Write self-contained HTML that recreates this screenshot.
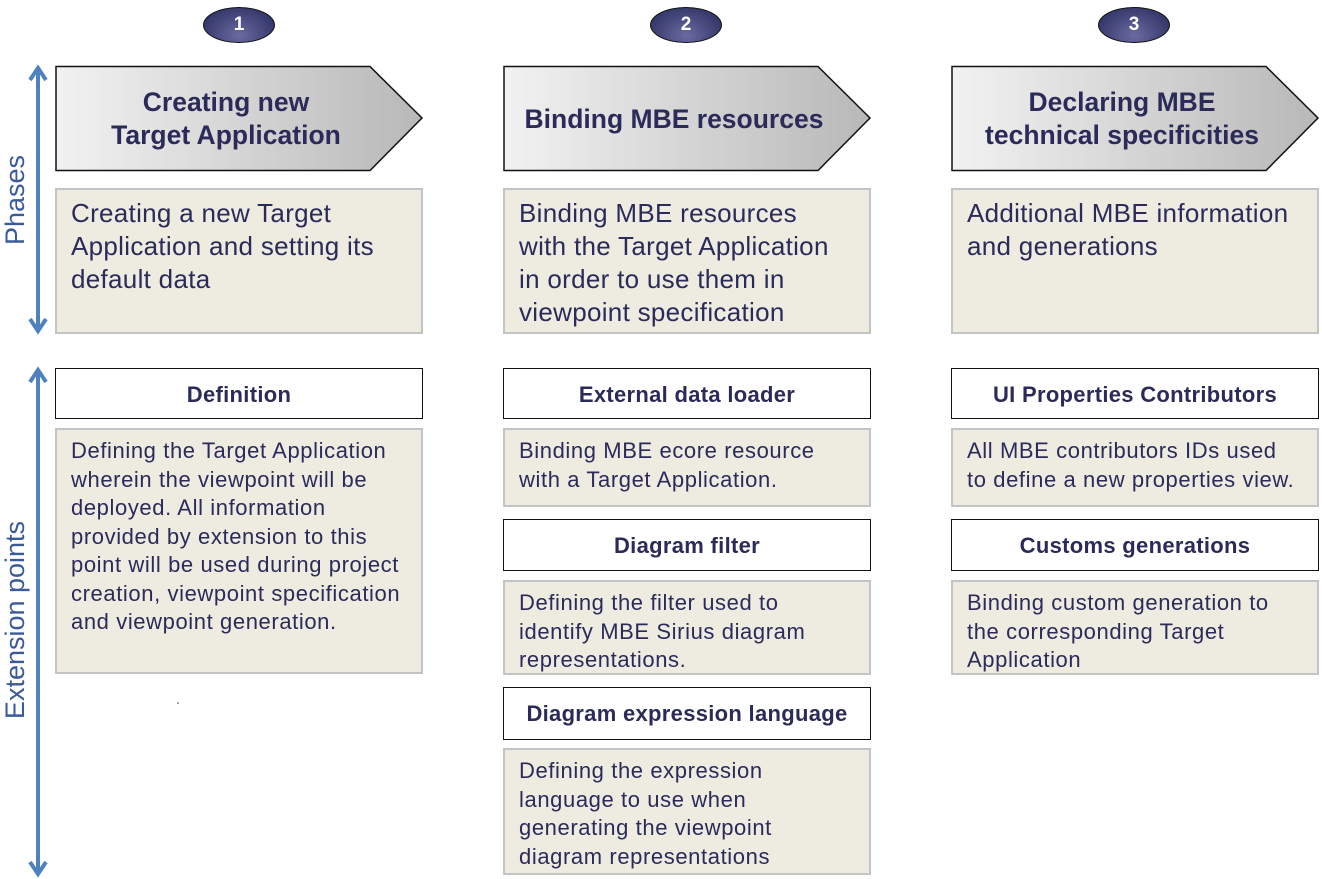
<!DOCTYPE html>
<html><head><meta charset="utf-8"><style>
body{margin:0;width:1322px;height:879px;background:#fff;position:relative;font-family:"Liberation Sans",Arial,sans-serif;color:#2b2b5a;overflow:hidden}
.a{position:absolute;box-sizing:border-box}
.oval{width:72px;height:36px;border-radius:50%;border:1.5px solid #111;background:radial-gradient(ellipse at 50% 80%,#6a6aa0,#24285a);color:#fff;font-weight:bold;font-size:19px;text-align:center;line-height:33px;top:7px}
.chev{top:66px;width:368px;height:106px}
.chev .t{position:absolute;left:0;width:342px;top:0;height:106px;display:flex;align-items:center;justify-content:center;text-align:center;font-weight:bold;font-size:26.5px;line-height:33px;white-space:nowrap}
.ph{top:188px;width:368px;height:146px;background:#eeebe1;border:2px solid #c4c4c4;padding:7px 30px 7px 14px;font-size:26px;letter-spacing:0.3px;line-height:33px}
.h{height:51px;background:#fff;border:1.5px solid #111;text-align:center;font-weight:bold;font-size:22px;letter-spacing:0.3px;line-height:51px;width:368px;white-space:nowrap}
.d{background:#eeebe1;border:2px solid #c4c4c4;padding:7px 18px 8px 14px;font-size:22px;letter-spacing:0.6px;line-height:28.5px;width:368px}
.vt{transform:rotate(-90deg);transform-origin:center;white-space:nowrap;font-size:27px;color:#3a5a9a;height:32px;line-height:32px}
</style></head><body>
<div class="a oval" style="left:203px">1</div>
<div class="a oval" style="left:650px">2</div>
<div class="a oval" style="left:1098px">3</div>

<svg class="a" style="left:0;top:0" width="1322" height="879">
<defs><linearGradient id="g" x1="0" x2="1"><stop offset="0" stop-color="#f2f2f2"/><stop offset="1" stop-color="#b8b8b8"/></linearGradient></defs>
<g fill="url(#g)" stroke="#111" stroke-width="1.5">
<polygon points="56,66.5 370,66.5 422,118 370,170.5 56,170.5"/>
<polygon points="504,66.5 818,66.5 870,118 818,170.5 504,170.5"/>
<polygon points="952,66.5 1266,66.5 1318,118 1266,170.5 952,170.5"/>
</g>
<g stroke="#4f81bd" stroke-width="4" fill="none">
<line x1="38" y1="70" x2="38" y2="329"/>
<polyline points="30,80 38,68 46,80"/><polyline points="30,319 38,331 46,319"/>
<line x1="38" y1="372" x2="38" y2="872"/>
<polyline points="30,382 38,370 46,382"/><polyline points="30,862 38,874 46,862"/>
</g>
<circle cx="178" cy="703" r="0.8" fill="#333"/>
</svg>

<div class="a chev" style="left:55px"><div class="t">Creating new<br>Target Application</div></div>
<div class="a chev" style="left:503px"><div class="t">Binding MBE resources</div></div>
<div class="a chev" style="left:951px"><div class="t">Declaring MBE<br>technical specificities</div></div>

<div class="a ph" style="left:55px">Creating a new Target Application and setting its default data</div>
<div class="a ph" style="left:503px">Binding MBE resources with the Target Application in order to use them in viewpoint specification</div>
<div class="a ph" style="left:951px;padding-right:10px">Additional MBE information and generations</div>

<div class="a vt" style="left:-50px;top:184px;width:130px;text-align:center">Phases</div>
<div class="a vt" style="left:-85px;top:604px;width:200px;text-align:center">Extension points</div>

<div class="a h" style="left:55px;top:368px">Definition</div>
<div class="a d" style="left:55px;top:428px;height:246px">Defining the Target Application wherein the viewpoint will be deployed. All information provided by extension to this point will be used during project creation, viewpoint specification and viewpoint generation.</div>

<div class="a h" style="left:503px;top:368px">External data loader</div>
<div class="a d" style="left:503px;top:428px;height:79px">Binding MBE ecore resource with a Target Application.</div>
<div class="a h" style="left:503px;top:519px;height:52px">Diagram filter</div>
<div class="a d" style="left:503px;top:580px;height:95px">Defining the filter used to identify MBE Sirius diagram representations.</div>
<div class="a h" style="left:503px;top:687px;height:53px">Diagram expression language</div>
<div class="a d" style="left:503px;top:748px;height:127px">Defining the expression language to use when generating the viewpoint diagram representations</div>

<div class="a h" style="left:951px;top:368px">UI Properties Contributors</div>
<div class="a d" style="left:951px;top:428px;height:79px">All MBE contributors IDs used to define a new properties view.</div>
<div class="a h" style="left:951px;top:519px;height:52px">Customs generations</div>
<div class="a d" style="left:951px;top:580px;height:95px">Binding custom generation to the corresponding Target Application</div>
</body></html>
